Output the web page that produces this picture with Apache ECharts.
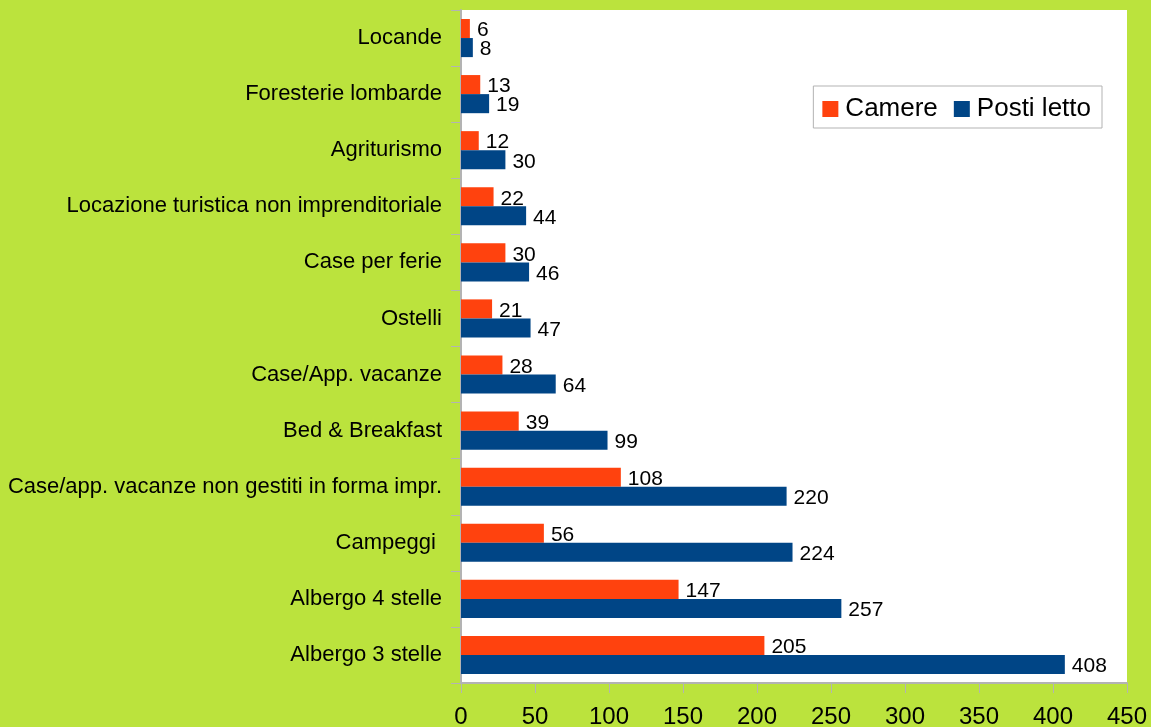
<!DOCTYPE html>
<html>
<head>
<meta charset="utf-8">
<script src="https://cdn.jsdelivr.net/npm/echarts@6/dist/echarts.min.js"></script>
<style>
html,body{margin:0;padding:0;background:#bbe33d;}
#chart{width:1151px;height:727px;}
</style>
</head>
<body>
<div id="chart"></div>
<script>
const categories = ['Locande','Foresterie lombarde','Agriturismo','Locazione turistica non imprenditoriale','Case per ferie','Ostelli','Case/App. vacanze','Bed & Breakfast','Case/app. vacanze non gestiti in forma impr.','Campeggi ','Albergo 4 stelle','Albergo 3 stelle'];
const camere = [6,13,12,22,30,21,28,39,108,56,147,205];
const postiLetto = [8,19,30,44,46,47,64,99,220,224,257,408];
const xTicks = [0,50,100,150,200,250,300,350,400,450];

const chart = echarts.init(document.getElementById('chart'));
const font = 'Liberation Sans, Arial, sans-serif';
chart.setOption({
  backgroundColor: '#bbe33d',
  textStyle: {fontFamily: font},
  animation: false,
  grid: {left: 461, right: 24, top: 10, bottom: 44, show: true, backgroundColor: '#ffffff', borderWidth: 0,
         containLabel: false, outerBoundsMode: 'none'},
  legend: {
    data: ['Camere','Posti letto'],
    right: 49, top: 86,
    orient: 'horizontal',
    backgroundColor: '#ffffff', borderColor: '#b3b3b3', borderWidth: 1,
    padding: [10, 11, 6, 9],
    itemWidth: 16, itemHeight: 16, itemGap: 16,
    icon: 'rect',
    textStyle: {fontSize: 26, color: '#000', fontFamily: font, padding: [0,0,0,2]}
  },
  xAxis: {
    type: 'value', min: xTicks[0], max: xTicks[xTicks.length-1], interval: 50,
    axisLine: {show: true, lineStyle: {color: '#b3b3b3', width: 2}},
    axisTick: {show: true, length: 10, lineStyle: {color: '#b3b3b3'}},
    splitLine: {show: false},
    axisLabel: {fontSize: 24, color: '#000', margin: 22, fontFamily: font}
  },
  yAxis: {
    type: 'category', data: categories, inverse: true,
    axisLine: {show: true, lineStyle: {color: '#b3b3b3', width: 2}},
    axisTick: {show: true, length: 10, lineStyle: {color: '#b3b3b3'}},
    axisLabel: {fontSize: 22, color: '#000', margin: 19, fontFamily: font}
  },
  series: [
    {name: 'Camere', type: 'bar', data: camere, barGap: '0%', barCategoryGap: '32%',
     itemStyle: {color: '#ff420e'},
     label: {show: true, position: 'right', distance: 7, offset: [0, 2], fontSize: 21, color: '#000', fontFamily: font}},
    {name: 'Posti letto', type: 'bar', data: postiLetto, barGap: '0%', barCategoryGap: '32%',
     itemStyle: {color: '#004586'},
     label: {show: true, position: 'right', distance: 7, offset: [0, 2], fontSize: 21, color: '#000', fontFamily: font}}
  ]
});
</script>
</body>
</html>
